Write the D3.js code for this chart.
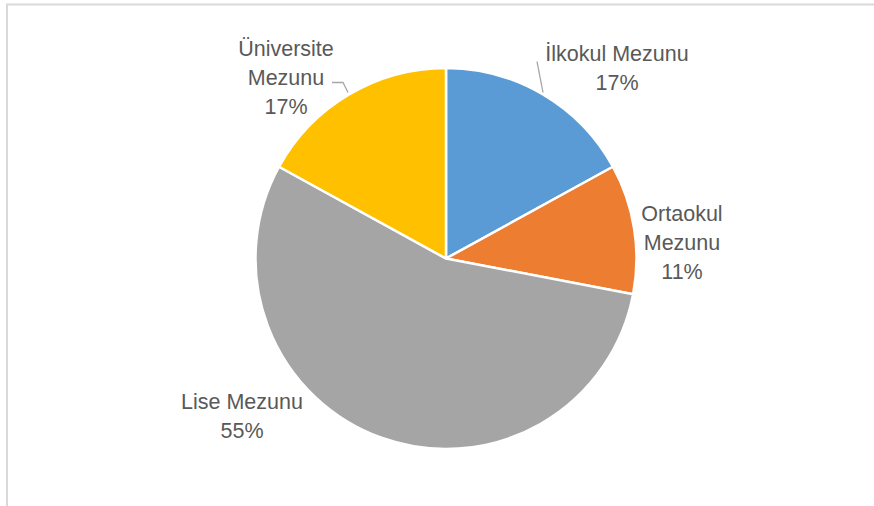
<!DOCTYPE html>
<html>
<head>
<meta charset="utf-8">
<script src="https://cdn.jsdelivr.net/npm/d3@7"></script>
<style>
  body { margin: 0; background: #fff; }
  svg { display: block; }
</style>
</head>
<body>
<svg id="chart"></svg>
<script>
const categories = ["İlkokul Mezunu", "Ortaokul Mezunu", "Lise Mezunu", "Üniversite Mezunu"];
const values = [17, 11, 55, 17];
const colors = ["#5b9bd5", "#ed7d31", "#a5a5a5", "#ffc000"];
// label lines (how each category label wraps)
const labelLines = [["İlkokul Mezunu"], ["Ortaokul", "Mezunu"], ["Lise Mezunu"], ["Üniversite", "Mezunu"]];

const W = 874, H = 506;
const svg = d3.select("#chart").attr("width", W).attr("height", H);

// chart area border (cropped at right/bottom)
svg.append("path")
    .attr("d", `M7,${H + 5} V4.5 H${W + 5}`)
    .attr("fill", "none")
    .attr("stroke", "#d9d9d9")
    .attr("stroke-width", 2);

const cx = 446, cy = 258.5, r = 190.5;
const data = categories.map((c, i) => ({ name: c, value: values[i], lines: labelLines[i] }));
const total = d3.sum(values);

const pie = d3.pie().sort(null).value((d) => d.value);
const arc = d3.arc().innerRadius(0).outerRadius(r);
const arcs = pie(data);

const g = svg.append("g").attr("transform", `translate(${cx},${cy})`);

g.selectAll("path.slice")
    .data(arcs)
    .join("path")
    .attr("class", "slice")
    .attr("d", arc)
    .attr("fill", (d, i) => colors[i])
    .attr("stroke", "#fff")
    .attr("stroke-width", 2.5)
    .attr("stroke-linejoin", "round");

// label anchor positions, relative to the pie centre
const labelPos = [
    { x: 171, y: -198 },
    { x: 236, y: -38 },
    { x: -204, y: 150 },
    { x: -160, y: -203 }
];
const lineH = 29;

// leader lines (from label to slice edge)
const outer = d3.arc().innerRadius(r).outerRadius(r);
const leaders = [
    { i: 0, pts: [[91, -197], [97, -166]] },
    { i: 3, pts: [[-114, -176], [-103, -176], [-98, -166]] }
];
g.selectAll("path.leader")
    .data(leaders)
    .join("path")
    .attr("class", "leader")
    .attr("d", (d) => d3.line()(d.pts))
    .attr("fill", "none")
    .attr("stroke", "#a6a6a6")
    .attr("stroke-width", 1.3);

const labels = g.selectAll("text.lbl")
    .data(arcs)
    .join("text")
    .attr("class", "lbl")
    .attr("text-anchor", "middle")
    .attr("font-family", "Liberation Sans, Arial, sans-serif")
    .attr("font-size", 21.5)
    .attr("fill", "#595959");

labels.each(function (d, i) {
    const t = d3.select(this);
    const lines = d.data.lines.concat([d3.format(".0%")(d.data.value / total)]);
    lines.forEach((s, k) => {
        t.append("tspan")
            .attr("x", labelPos[i].x)
            .attr("y", labelPos[i].y + k * lineH)
            .text(s);
    });
});
</script>
</body>
</html>
